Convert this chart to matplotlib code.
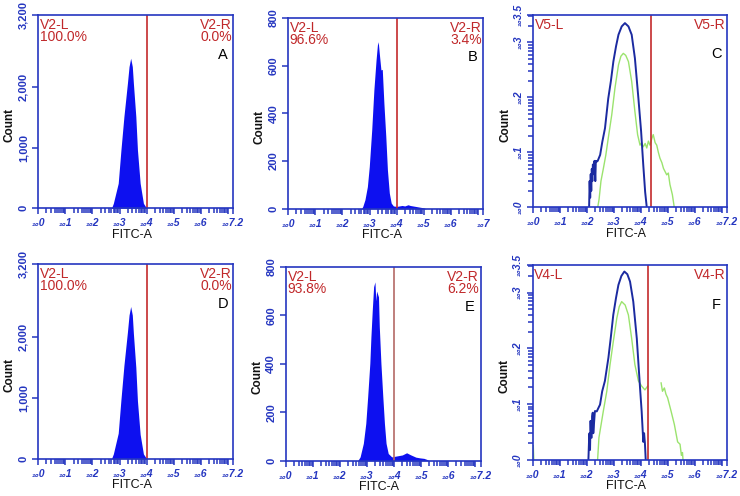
import numpy as np
import matplotlib.pyplot as plt
from matplotlib.ticker import FixedLocator, NullFormatter

# ---------------------- DATA ----------------------
# x = log10(FITC-A), y = counts

# A: control, linear count axis
a_x = [2.70, 2.77, 2.95, 3.05, 3.16, 3.29, 3.35, 3.41, 3.47, 3.51, 3.60, 3.66, 3.76, 3.88, 4.00]
a_y = [0, 83, 414, 965, 1517, 2070, 2345, 2483, 2345, 2070, 1517, 965, 414, 83, 0]

# B: sample, linear count axis
b_x = [2.70, 2.75, 2.83, 2.92, 2.99, 3.08, 3.16, 3.24, 3.29, 3.32, 3.36, 3.42, 3.47, 3.53,
       3.60, 3.66, 3.73, 3.80, 3.88, 4.00, 4.10, 4.20, 4.30, 4.42, 4.50, 4.60, 4.70, 4.80,
       4.90, 5.00, 5.10]
b_y = [0, 10, 38, 93, 177, 330, 498, 623, 686, 700, 651, 582, 584, 442,
       303, 163, 66, 24, 12, 10, 12, 14, 12, 17, 14, 12, 10, 8,
       6, 4, 0]

# C: overlay, log count axis (blue = control, green = sample)
c_blue_x = [2.07, 2.09, 2.11, 2.13, 2.15, 2.17, 2.19, 2.21, 2.24, 2.27, 2.30, 2.32, 2.36, 2.39,
            2.48, 2.56, 2.66, 2.78, 2.88, 2.97, 3.07, 3.16, 3.28, 3.40, 3.53, 3.65, 3.77, 3.90,
            4.00, 4.08, 4.15, 4.21]
c_blue_y = [1, 3, 1.5, 4, 2, 5, 3, 6, 4, 7, 3, 7, 6.8, 7,
            9, 15.5, 27.5, 95, 200, 447, 850, 1380, 1950, 2240, 1950, 1380, 513, 95,
            24, 5.9, 1.9, 1]
c_green_x = [2.39, 2.44, 2.51, 2.60, 2.69, 2.78, 2.91, 3.03, 3.16, 3.25, 3.34, 3.43, 3.53, 3.65,
             3.77, 3.87, 3.96, 4.02, 4.08, 4.15, 4.21, 4.27, 4.33, 4.40, 4.45, 4.52, 4.58, 4.64,
             4.70, 4.77, 4.83, 4.95, 5.01, 5.07, 5.16, 5.23]
c_green_y = [1, 1.4, 3, 5.1, 8.9, 18, 48, 148, 389, 560, 631, 580, 447, 195,
             55, 21, 13.5, 15, 12.6, 14.5, 12, 16, 13.5, 18, 21, 15, 13.5, 10,
             7.8, 6.5, 5.1, 3.9, 4.2, 2.6, 1.7, 1]

# D: control, linear count axis
d_x = [2.70, 2.77, 2.95, 3.05, 3.16, 3.29, 3.35, 3.41, 3.47, 3.51, 3.60, 3.66, 3.76, 3.88, 4.00]
d_y = [0, 80, 420, 970, 1530, 2080, 2360, 2500, 2360, 2060, 1500, 950, 400, 80, 0]

# E: sample, linear count axis
e_x = [2.65, 2.74, 2.86, 2.95, 3.02, 3.10, 3.14, 3.19, 3.24, 3.29, 3.32, 3.35, 3.38, 3.42,
       3.45, 3.51, 3.58, 3.64, 3.70, 3.78, 3.91, 4.00, 4.10, 4.20, 4.30, 4.46, 4.60, 4.70,
       4.80, 4.95, 5.10, 5.20, 5.30]
e_y = [0, 16, 72, 154, 264, 402, 511, 621, 718, 738, 660, 700, 690, 676,
       553, 402, 264, 154, 72, 30, 16, 18, 20, 22, 24, 33, 25, 20,
       15, 12, 10, 6, 0]

# F: overlay, log count axis
f_blue_x = [2.06, 2.08, 2.10, 2.12, 2.14, 2.16, 2.18, 2.20, 2.22, 2.24, 2.26, 2.30, 2.37, 2.49,
            2.57, 2.67, 2.80, 2.89, 2.98, 3.08, 3.17, 3.28, 3.39, 3.50, 3.60, 3.72, 3.85, 3.97,
            4.03, 4.09, 4.12, 4.15, 4.18]
f_blue_y = [1, 2, 3, 1.5, 5, 2.5, 2.5, 6, 7, 3, 4, 7.5, 7.4, 9.8,
            17, 26, 68, 160, 400, 800, 1380, 2000, 2400, 2150, 1585, 692, 151, 19.5,
            7.4, 2.1, 3, 2, 1]
f_green_x = [0.00, 0.02, 0.04, np.nan,
             2.40, 2.45, 2.53, 2.61, 2.74, 2.86, 2.98, 3.11, 3.20, 3.29, 3.42, 3.54, 3.66, 3.78,
             3.91, 4.03, 4.15, 4.25, np.nan,
             4.75, 4.80, 4.87, 4.93, 4.99, 5.12, 5.24, 5.30, 5.36, 5.45, 5.50, 5.54, 5.56]
f_green_y = [1, 1.8, 1, np.nan,
             1, 2.5, 4.3, 7.4, 17, 51, 132, 347, 560, 692, 600, 398, 151, 51,
             26, 21, 18, 21, np.nan,
             24, 17, 19.5, 15, 13, 7.4, 4.3, 3, 2.1, 1.9, 1.2, 1.35, 1]

lin_ticks_big = [0, 1000, 2000, 3200]
lin_labels_big = ['0', '1,000', '2,000', '3,200']
lin_ticks_small = [0, 200, 400, 600, 800]
lin_labels_small = ['0', '200', '400', '600', '800']
log_exps = [0, 1, 2, 3, 3.5]
x_exps = [0, 1, 2, 3, 4, 5, 6, 7, 7.2]
x_exp_labels = ['0', '1', '2', '3', '4', '5', '6', '', '7.2']

# ---------------------- STYLE ----------------------
plt.rcParams['font.family'] = ['Liberation Sans', 'DejaVu Sans']

axis_blue = '#2536c0'
fill_blue = '#0d10f0'
curve_blue = '#1b2aa0'
curve_green = '#9be36e'
gate_red = '#c42a2c'
text_red = '#c0282a'


def pow_label(e):
    # small "10" followed by the exponent, as the cytometer software draws it
    if e == '':
        return ''
    return '\u2081\u2080' + e


def log_minor(top_exp):
    # 2..9 x 10^k inside the axis range
    return [k * 10 ** d for d in range(0, 8) for k in range(2, 10) if k * 10 ** d < 10 ** top_exp]


def style_axis(ax, log_y, yt=None, yl=None, last_x='7.2'):
    ax.set_xscale('log')
    ax.set_xlim(1, 10 ** 7.2)
    ax.set_xticks([10 ** e for e in x_exps])
    xl = [pow_label(e) for e in x_exp_labels]
    xl[-1] = pow_label(last_x)
    ax.set_xticklabels(xl, fontstyle='italic', fontweight='bold', fontsize=7.5)
    ax.xaxis.set_minor_locator(FixedLocator(log_minor(7.2)))
    ax.xaxis.set_minor_formatter(NullFormatter())

    if log_y:
        ax.set_yscale('log')
        ax.set_ylim(1, 10 ** 3.5)
        ax.set_yticks([10 ** e for e in log_exps])
        ax.set_yticklabels([pow_label(str(e)) for e in log_exps], fontstyle='italic',
                           fontweight='bold', fontsize=7.5)
        ax.yaxis.set_minor_locator(FixedLocator(log_minor(3.5)))
        ax.yaxis.set_minor_formatter(NullFormatter())
    else:
        ax.set_ylim(0, yt[-1])
        ax.set_yticks(yt)
        ax.set_yticklabels(yl, fontweight='bold', fontsize=8)

    for s in ax.spines.values():
        s.set_color(axis_blue)
        s.set_linewidth(1.2)
    ax.tick_params(which='major', direction='out', length=4.5, width=1.1, color=axis_blue,
                   labelcolor=axis_blue, pad=2.5)
    ax.tick_params(which='minor', direction='out', length=3.6, width=1.1, color=axis_blue)
    ax.tick_params(axis='y', labelrotation=90)
    for lbl in ax.get_yticklabels():
        lbl.set_va('center')

    ax.set_xlabel('FITC-A', fontsize=9, color='#111111')
    ax.xaxis.set_label_coords(0.48, -0.105)
    ax.set_ylabel('Count', fontsize=8.5, fontweight='bold', color='#111111')
    ax.yaxis.set_label_coords(-0.115, 0.43)


def gate_text(ax, left, right, letter, line_col=gate_red, gate=4.0):
    ax.axvline(10 ** gate, color=line_col, lw=1.2)
    ax.text(0.008, 0.985, left, transform=ax.transAxes, ha='left', va='top',
            color=text_red, fontsize=10, linespacing=0.85)
    ax.text(0.992, 0.985, right, transform=ax.transAxes, ha='right', va='top',
            multialignment='right', color=text_red, fontsize=10, linespacing=0.85)
    ax.text(0.945, 0.795, letter, transform=ax.transAxes, ha='center', va='center',
            color='black', fontsize=10.5)


# ---------------------- PLOT ----------------------
fig = plt.figure(figsize=(7.4, 4.96), dpi=100)

axA = fig.add_axes([0.0518, 0.580, 0.2635, 0.390])
axB = fig.add_axes([0.3896, 0.579, 0.2635, 0.385])
axC = fig.add_axes([0.7207, 0.582, 0.2622, 0.388])
axD = fig.add_axes([0.0518, 0.075, 0.2635, 0.393])
axE = fig.add_axes([0.3865, 0.071, 0.2631, 0.391])
axF = fig.add_axes([0.7199, 0.073, 0.2630, 0.393])

# histogram panels
for ax, hx, hy in [(axA, a_x, a_y), (axB, b_x, b_y), (axD, d_x, d_y), (axE, e_x, e_y)]:
    ax.fill_between(10 ** np.array(hx), hy, 0, color=fill_blue, lw=0)

style_axis(axA, False, lin_ticks_big, lin_labels_big)
style_axis(axB, False, lin_ticks_small, lin_labels_small, last_x='7')
style_axis(axD, False, lin_ticks_big, lin_labels_big)
style_axis(axE, False, lin_ticks_small, lin_labels_small)

gate_text(axA, 'V2-L\n100.0%', 'V2-R\n0.0%', 'A')
gate_text(axB, 'V2-L\n96.6%', 'V2-R\n3.4%', 'B')
gate_text(axD, 'V2-L\n100.0%', 'V2-R\n0.0%', 'D')
gate_text(axE, 'V2-L\n93.8%', 'V2-R\n6.2%', 'E', line_col='#b46a66')

# overlay panels
axC.plot(10 ** np.array(c_green_x), c_green_y, color=curve_green, lw=1)
axC.plot(10 ** np.array(c_blue_x), c_blue_y, color=curve_blue, lw=1.4)
axF.plot(10 ** np.array(f_green_x), f_green_y, color=curve_green, lw=1)
axF.plot(10 ** np.array(f_blue_x), f_blue_y, color=curve_blue, lw=1.4)

style_axis(axC, True)
style_axis(axF, True)
gate_text(axC, 'V5-L', 'V5-R', 'C', gate=4.37)
gate_text(axF, 'V4-L', 'V4-R', 'F', gate=4.28)

plt.savefig('out.png', dpi=100)
plt.close()
